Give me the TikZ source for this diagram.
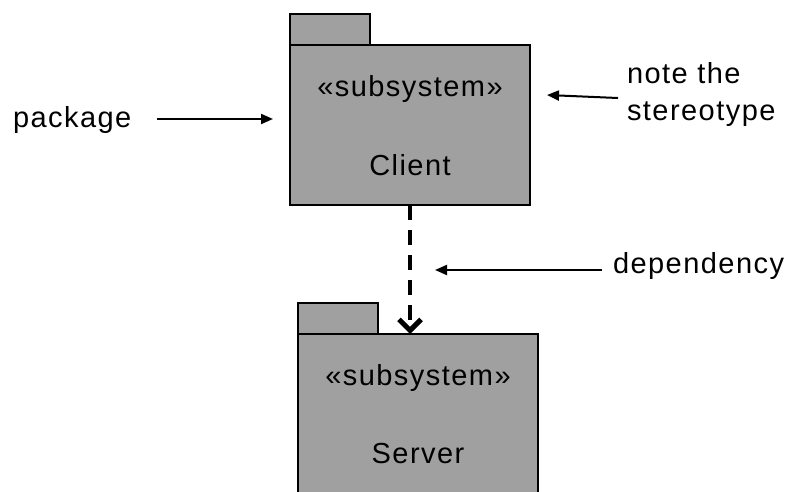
\documentclass[tikz,border=0pt]{standalone}
\usepackage{fontspec}
\setmainfont[LetterSpace=5]{Liberation Sans}
\usetikzlibrary{arrows.meta}
\definecolor{pkgfill}{RGB}{160,160,160}
\begin{document}
\begin{tikzpicture}[x=1bp,y=-1bp,
  pkg/.style={draw=black,line width=2.2bp,fill=pkgfill,inner sep=0,outer sep=0,minimum width=240bp,minimum height=160bp},
  pkgtab/.style={draw=black,line width=2.2bp,fill=pkgfill,inner sep=0,outer sep=0,minimum width=80bp,minimum height=31bp},
  lbl/.style={inner sep=0,outer sep=0,font=\fontsize{29bp}{37bp}\selectfont,text=black},
  pointer/.style={line width=2bp,-{Triangle[length=12bp,width=10bp]}},
  dep/.style={line width=4.5bp,dash pattern=on 15bp off 10bp,-{Straight Barb[length=11bp,width=22bp,line width=5bp]}}]
\useasboundingbox (0,0) rectangle (795,492);
\clip (0,0) rectangle (795,492);
% packages
\node[pkgtab,anchor=south west] (ctab) at (290,45) {};
\node[pkg] (client) at (410,125) {};
\node[pkgtab,anchor=south west] (stab) at (298,334) {};
\node[pkg,anchor=north west] (server) at (298,334) {};
% texts in packages
\node[lbl,anchor=base] (cst) at (410,97) {«subsystem»};
\node[lbl,anchor=base] (cname) at (410,176) {Client};
\node[lbl,anchor=base] (sst) at (418,385) {«subsystem»};
\node[lbl,anchor=base] (sname) at (418,463) {Server};
% dependency
\draw[dep] (client.south) -- (client.south |- server.north);
% labels
\node[lbl,anchor=north west,align=left] (nlabel) at (627,62) {note the\\stereotype};
\node[lbl,anchor=base west] (plabel) at (13,128) {package};
\node[lbl,anchor=base west] (dlabel) at (613,274) {dependency};
% pointers
\coordinate (pend) at (273,119);
\coordinate (nend) at (547,95);
\coordinate (dend) at (435,270);
\draw[pointer,shorten <=26bp] (plabel.east |- pend) -- (pend);
\draw[pointer] ([shift={(-9,4)}]nlabel.west) -- (nend);
\draw[pointer,shorten <=11bp] (dlabel.west |- dend) -- (dend);
\end{tikzpicture}
\end{document}
